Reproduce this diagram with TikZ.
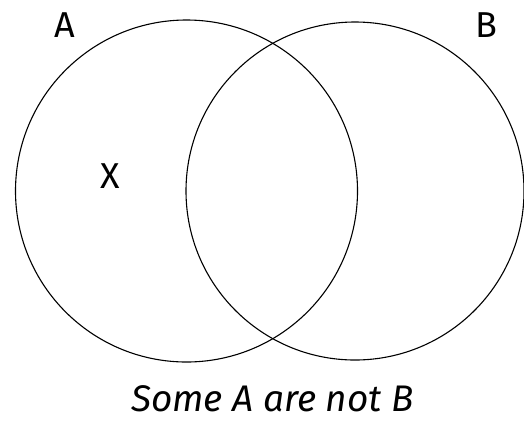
\documentclass[tikz,border=0pt]{standalone}
\usepackage{fontspec}
\setmainfont{Fira Sans}
\usepackage{tikz}
\usetikzlibrary{positioning}

\begin{document}
\begin{tikzpicture}[x=1pt,y=-1pt, every node/.style={font=\fontsize{36}{42}\selectfont}, set/.style={draw,circle,line width=1.1pt,inner sep=0pt}, lbl/.style={inner sep=0pt}]
\useasboundingbox (0,0) rectangle (524,424);
\node[set,minimum size=342pt] (setA) at (186.5,191) {};
\node[set,minimum size=338pt] (setB) at (355,191) {};
\node[lbl] (labA) at (64.5,25) {A};
\node[lbl] (labB) at (486.5,25) {B};
\node[lbl] (elemX) at (110.5,176.5) {X};
\node[lbl,font=\fontsize{37}{43}\selectfont\itshape] (caption) at (272.5,399) {Some A are not B};
\end{tikzpicture}
\end{document}
